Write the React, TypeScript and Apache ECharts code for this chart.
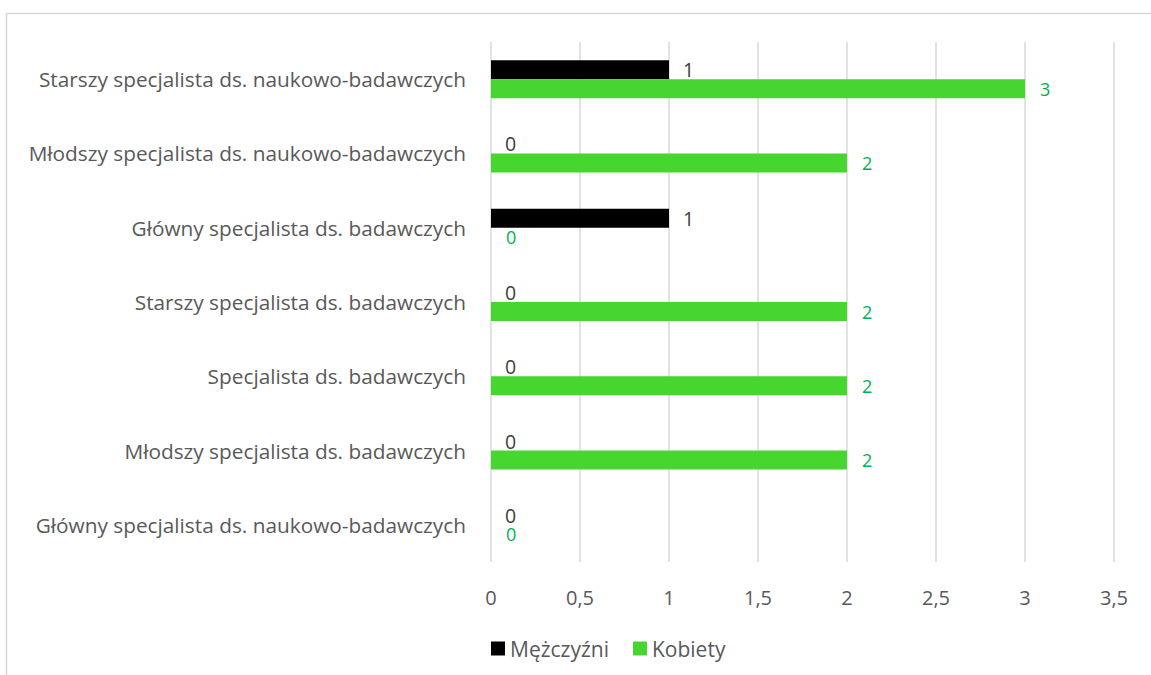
import React, { useEffect, useRef } from "react";
import * as echarts from "echarts";

const categories = [
  "Główny specjalista ds. naukowo-badawczych",
  "Młodszy specjalista ds. badawczych",
  "Specjalista ds. badawczych",
  "Starszy specjalista ds. badawczych",
  "Główny specjalista ds. badawczych",
  "Młodszy specjalista ds. naukowo-badawczych",
  "Starszy specjalista ds. naukowo-badawczych",
];
const men = [0, 0, 0, 0, 1, 0, 1];
const women = [0, 2, 2, 2, 0, 2, 3];
const xTicks = [0, 0.5, 1, 1.5, 2, 2.5, 3, 3.5];

export default function App() {
  const ref = useRef<HTMLDivElement>(null);
  useEffect(() => {
    const chart = echarts.init(ref.current!, null, { renderer: "svg" });
    const font = "'Open Sans', sans-serif";
    chart.setOption({
      animation: false,
      backgroundColor: "#ffffff",
      textStyle: { fontFamily: font },
      graphic: [
        {
          type: "rect",
          shape: { x: 6.5, y: 13.5, width: 1200, height: 700 },
          style: { fill: "none", stroke: "#d9d9d9", lineWidth: 1.5 },
          silent: true,
        },
      ],
      legend: {
        data: ["Mężczyźni", "Kobiety"],
        left: 486,
        top: 633,
        icon: "rect",
        itemWidth: 14,
        itemHeight: 14,
        itemGap: 24,
        textStyle: { fontSize: 21, color: "#595959", fontFamily: font },
      },
      grid: { left: 491, right: 37, top: 42, bottom: 113, containLabel: false },
      xAxis: {
        type: "value",
        min: 0,
        max: 3.5,
        interval: 0.5,
        axisLine: { show: false },
        axisTick: { show: false },
        splitLine: { lineStyle: { color: "#d9d9d9", width: 1.5 } },
        axisLabel: {
          margin: 25,
          fontSize: 20,
          color: "#595959",
          fontFamily: font,
          formatter: (v: number) => (xTicks.includes(v) ? String(v).replace(".", ",") : ""),
        },
      },
      yAxis: {
        type: "category",
        data: categories,
        axisLine: { show: false },
        axisTick: { show: false },
        axisLabel: { margin: 25, fontSize: 20.8, color: "#595959", fontFamily: font },
      },
      series: [
        {
          name: "Mężczyźni",
          type: "bar",
          data: men,
          barWidth: 19,
          barGap: "0%",
          itemStyle: { color: "#000000" },
          label: {
            show: true,
            position: "right",
            distance: 14,
            fontSize: 19.5,
            lineHeight: 17,
            color: "#404040",
            fontFamily: font,
          },
        },
        {
          name: "Kobiety",
          type: "bar",
          data: women,
          barWidth: 19,
          barGap: "0%",
          itemStyle: { color: "#46d62f" },
          label: {
            show: true,
            position: "right",
            distance: 15,
            fontSize: 18,
            lineHeight: 17,
            color: "#00b050",
            fontFamily: font,
          },
        },
      ],
    });
    return () => chart.dispose();
  }, []);
  return (
    <div
      ref={ref}
      style={{ position: "fixed", left: 0, top: 0, width: 1151, height: 675 }}
    />
  );
}
